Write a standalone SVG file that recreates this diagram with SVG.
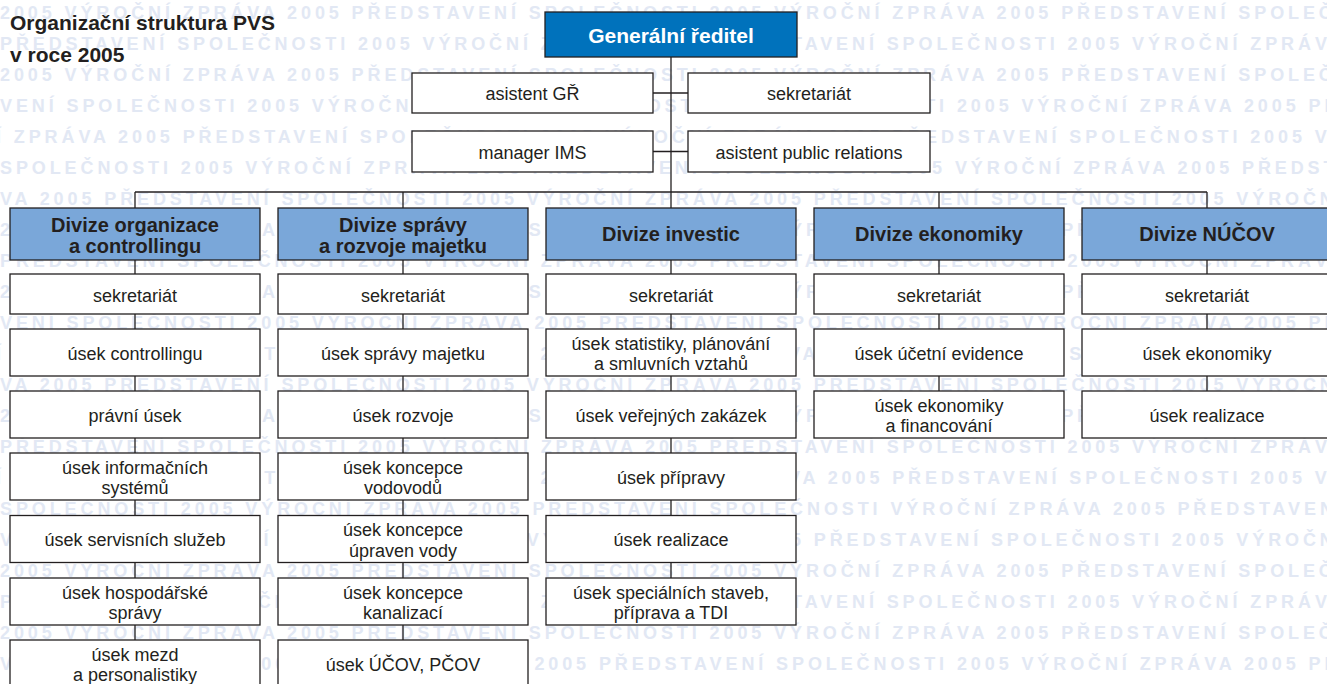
<svg xmlns="http://www.w3.org/2000/svg" width="1327" height="684" viewBox="0 0 1327 684">
<style>
.wm{font-family:"Liberation Sans",Arial,sans-serif;font-weight:bold;font-size:18px;letter-spacing:3.9px;fill:#e2e8f4}
.box{fill:#fff;stroke:#231f20;stroke-width:1.3}
.dv{fill:#7aa7d9;stroke:#231f20;stroke-width:1.3}
.gr{fill:#0072bc;stroke:#231f20;stroke-width:1.3}
.t{font-family:"Liberation Sans",Arial,sans-serif;font-size:18px;fill:#231f20;text-anchor:middle}
.h{font-family:"Liberation Sans",Arial,sans-serif;font-weight:bold;font-size:20px;fill:#231f20;text-anchor:middle}
.grt{font-family:"Liberation Sans",Arial,sans-serif;font-weight:bold;font-size:21px;fill:#fff;text-anchor:middle}
.title{font-family:"Liberation Sans",Arial,sans-serif;font-weight:bold;font-size:21px;fill:#231f20}
.conn line{stroke:#231f20;stroke-width:1.3}
</style>
<rect width="1327" height="684" fill="#fff"/>
<g id="watermark" class="wm">
<text x="0" y="18.5">2005 VÝROČNÍ ZPRÁVA 2005 PŘEDSTAVENÍ SPOLEČNOSTI 2005 VÝROČNÍ ZPRÁVA 2005 PŘEDSTAVENÍ SPOLEČNOSTI 2005</text>
<text x="0" y="49.5">PŘEDSTAVENÍ SPOLEČNOSTI 2005 VÝROČNÍ ZPRÁVA 2005 PŘEDSTAVENÍ SPOLEČNOSTI 2005 VÝROČNÍ ZPRÁVA 2005 PŘEDSTAVENÍ</text>
<text x="0" y="80.5">2005 VÝROČNÍ ZPRÁVA 2005 PŘEDSTAVENÍ SPOLEČNOSTI 2005 VÝROČNÍ ZPRÁVA 2005 PŘEDSTAVENÍ SPOLEČNOSTI 2005</text>
<text x="0" y="111.5">VENÍ SPOLEČNOSTI 2005 VÝROČNÍ ZPRÁVA 2005 PŘEDSTAVENÍ SPOLEČNOSTI 2005 VÝROČNÍ ZPRÁVA 2005 PŘEDSTAVENÍ</text>
<text x="-4" y="142.5">Í ZPRÁVA 2005 PŘEDSTAVENÍ SPOLEČNOSTI 2005 VÝROČNÍ ZPRÁVA 2005 PŘEDSTAVENÍ SPOLEČNOSTI 2005 VÝROČNÍ</text>
<text x="0" y="173.5">SPOLEČNOSTI 2005 VÝROČNÍ ZPRÁVA 2005 PŘEDSTAVENÍ SPOLEČNOSTI 2005 VÝROČNÍ ZPRÁVA 2005 PŘEDSTAVENÍ</text>
<text x="0" y="204.5">VA 2005 PŘEDSTAVENÍ SPOLEČNOSTI 2005 VÝROČNÍ ZPRÁVA 2005 PŘEDSTAVENÍ SPOLEČNOSTI 2005 VÝROČNÍ ZPRÁVA</text>
<text x="0" y="235.5">2005 VÝROČNÍ ZPRÁVA 2005 PŘEDSTAVENÍ SPOLEČNOSTI 2005 VÝROČNÍ ZPRÁVA 2005 PŘEDSTAVENÍ SPOLEČNOSTI 2005</text>
<text x="0" y="266.5">PŘEDSTAVENÍ SPOLEČNOSTI 2005 VÝROČNÍ ZPRÁVA 2005 PŘEDSTAVENÍ SPOLEČNOSTI 2005 VÝROČNÍ ZPRÁVA 2005 PŘEDSTAVENÍ</text>
<text x="0" y="297.5">2005 VÝROČNÍ ZPRÁVA 2005 PŘEDSTAVENÍ SPOLEČNOSTI 2005 VÝROČNÍ ZPRÁVA 2005 PŘEDSTAVENÍ SPOLEČNOSTI 2005</text>
<text x="0" y="328.5">VENÍ SPOLEČNOSTI 2005 VÝROČNÍ ZPRÁVA 2005 PŘEDSTAVENÍ SPOLEČNOSTI 2005 VÝROČNÍ ZPRÁVA 2005 PŘEDSTAVENÍ</text>
<text x="-4" y="359.5">Í ZPRÁVA 2005 PŘEDSTAVENÍ SPOLEČNOSTI 2005 VÝROČNÍ ZPRÁVA 2005 PŘEDSTAVENÍ SPOLEČNOSTI 2005 VÝROČNÍ</text>
<text x="0" y="390.5">VA 2005 PŘEDSTAVENÍ SPOLEČNOSTI 2005 VÝROČNÍ ZPRÁVA 2005 PŘEDSTAVENÍ SPOLEČNOSTI 2005 VÝROČNÍ ZPRÁVA</text>
<text x="0" y="421.5">2005 VÝROČNÍ ZPRÁVA 2005 PŘEDSTAVENÍ SPOLEČNOSTI 2005 VÝROČNÍ ZPRÁVA 2005 PŘEDSTAVENÍ SPOLEČNOSTI 2005</text>
<text x="0" y="452.5">PŘEDSTAVENÍ SPOLEČNOSTI 2005 VÝROČNÍ ZPRÁVA 2005 PŘEDSTAVENÍ SPOLEČNOSTI 2005 VÝROČNÍ ZPRÁVA 2005 PŘEDSTAVENÍ</text>
<text x="-4" y="483.5">Í ZPRÁVA 2005 PŘEDSTAVENÍ SPOLEČNOSTI 2005 VÝROČNÍ ZPRÁVA 2005 PŘEDSTAVENÍ SPOLEČNOSTI 2005 VÝROČNÍ</text>
<text x="0" y="514.5">SPOLEČNOSTI 2005 VÝROČNÍ ZPRÁVA 2005 PŘEDSTAVENÍ SPOLEČNOSTI VÝROČNÍ ZPRÁVA 2005 PŘEDSTAVENÍ SPOLEČNOSTI</text>
<text x="0" y="545.5">VA 2005 PŘEDSTAVENÍ SPOLEČNOSTI 2005 VÝROČNÍ ZPRÁVA 2005 PŘEDSTAVENÍ SPOLEČNOSTI 2005 VÝROČNÍ ZPRÁVA</text>
<text x="0" y="576.5">2005 VÝROČNÍ ZPRÁVA 2005 PŘEDSTAVENÍ SPOLEČNOSTI 2005 VÝROČNÍ ZPRÁVA 2005 PŘEDSTAVENÍ SPOLEČNOSTI 2005</text>
<text x="0" y="607.5">PŘEDSTAVENÍ SPOLEČNOSTI 2005 VÝROČNÍ ZPRÁVA 2005 PŘEDSTAVENÍ SPOLEČNOSTI 2005 VÝROČNÍ ZPRÁVA 2005 PŘEDSTAVENÍ</text>
<text x="0" y="638.5">2005 VÝROČNÍ ZPRÁVA 2005 PŘEDSTAVENÍ SPOLEČNOSTI 2005 VÝROČNÍ ZPRÁVA 2005 PŘEDSTAVENÍ SPOLEČNOSTI 2005</text>
<text x="0" y="669.5">VENÍ SPOLEČNOSTI 2005 VÝROČNÍ ZPRÁVA 2005 PŘEDSTAVENÍ SPOLEČNOSTI 2005 VÝROČNÍ ZPRÁVA 2005 PŘEDSTAVENÍ</text>
</g>
<g id="title" class="title">
<text x="10" y="30">Organizační struktura PVS</text>
<text x="10" y="62">v roce 2005</text>
</g>
<g id="connectors" class="conn">
<line x1="671" y1="57" x2="671" y2="192"/>
<line x1="653" y1="93" x2="688" y2="93"/>
<line x1="653" y1="151.5" x2="688" y2="151.5"/>
<line x1="135" y1="192" x2="1207" y2="192"/>
<line x1="135" y1="192" x2="135" y2="640"/>
<line x1="403" y1="192" x2="403" y2="640"/>
<line x1="671" y1="192" x2="671" y2="578"/>
<line x1="939" y1="192" x2="939" y2="391"/>
<line x1="1207" y1="192" x2="1207" y2="391"/>
</g>
<g id="gr"><rect class="gr" x="545" y="12" width="252" height="45"/><text class="grt" x="671" y="43">Generální ředitel</text></g>
<g id="asistent-gr"><rect class="box" x="412" y="73" width="241" height="40"/><text class="t" x="532.5" y="100">asistent GŘ</text></g>
<g id="sekretariat-gr"><rect class="box" x="688" y="73" width="242" height="40"/><text class="t" x="809" y="100">sekretariát</text></g>
<g id="manager-ims"><rect class="box" x="412" y="131" width="241" height="41"/><text class="t" x="532.5" y="158.5">manager IMS</text></g>
<g id="asistent-pr"><rect class="box" x="688" y="131" width="242" height="41"/><text class="t" x="809" y="158.5">asistent public relations</text></g>

<g id="div1"><rect class="dv" x="10" y="208" width="250" height="52"/><text class="h" x="135" y="232">Divize organizace</text><text class="h" x="135" y="253">a controllingu</text></g>
<g id="div2"><rect class="dv" x="278" y="208" width="250" height="52"/><text class="h" x="403" y="232">Divize správy</text><text class="h" x="403" y="253">a rozvoje majetku</text></g>
<g id="div3"><rect class="dv" x="546" y="208" width="250" height="52"/><text class="h" x="671" y="241">Divize investic</text></g>
<g id="div4"><rect class="dv" x="814" y="208" width="250" height="52"/><text class="h" x="939" y="241">Divize ekonomiky</text></g>
<g id="div5"><rect class="dv" x="1082" y="208" width="250" height="52"/><text class="h" x="1207" y="241">Divize NÚČOV</text></g>

<g id="c1r1"><rect class="box" x="10" y="274" width="250" height="40"/><text class="t" x="135" y="301.5">sekretariát</text></g>
<g id="c1r2"><rect class="box" x="10" y="329" width="250" height="47"/><text class="t" x="135" y="359.5">úsek controllingu</text></g>
<g id="c1r3"><rect class="box" x="10" y="391" width="250" height="47"/><text class="t" x="135" y="421.5">právní úsek</text></g>
<g id="c1r4"><rect class="box" x="10" y="453" width="250" height="47"/><text class="t" x="135" y="473.5">úsek informačních</text><text class="t" x="135" y="494">systémů</text></g>
<g id="c1r5"><rect class="box" x="10" y="515.5" width="250" height="47"/><text class="t" x="135" y="546">úsek servisních služeb</text></g>
<g id="c1r6"><rect class="box" x="10" y="578" width="250" height="47"/><text class="t" x="135" y="598.5">úsek hospodářské</text><text class="t" x="135" y="619">správy</text></g>
<g id="c1r7"><rect class="box" x="10" y="640" width="250" height="47"/><text class="t" x="135" y="660.5">úsek mezd</text><text class="t" x="135" y="681">a personalistiky</text></g>

<g id="c2r1"><rect class="box" x="278" y="274" width="250" height="40"/><text class="t" x="403" y="301.5">sekretariát</text></g>
<g id="c2r2"><rect class="box" x="278" y="329" width="250" height="47"/><text class="t" x="403" y="359.5">úsek správy majetku</text></g>
<g id="c2r3"><rect class="box" x="278" y="391" width="250" height="47"/><text class="t" x="403" y="421.5">úsek rozvoje</text></g>
<g id="c2r4"><rect class="box" x="278" y="453" width="250" height="47"/><text class="t" x="403" y="473.5">úsek koncepce</text><text class="t" x="403" y="494">vodovodů</text></g>
<g id="c2r5"><rect class="box" x="278" y="515.5" width="250" height="47"/><text class="t" x="403" y="536">úsek koncepce</text><text class="t" x="403" y="556.5">úpraven vody</text></g>
<g id="c2r6"><rect class="box" x="278" y="578" width="250" height="47"/><text class="t" x="403" y="598.5">úsek koncepce</text><text class="t" x="403" y="619">kanalizací</text></g>
<g id="c2r7"><rect class="box" x="278" y="640" width="250" height="47"/><text class="t" x="403" y="670.5">úsek ÚČOV, PČOV</text></g>

<g id="c3r1"><rect class="box" x="546" y="274" width="250" height="40"/><text class="t" x="671" y="301.5">sekretariát</text></g>
<g id="c3r2"><rect class="box" x="546" y="329" width="250" height="47"/><text class="t" x="671" y="349.5">úsek statistiky, plánování</text><text class="t" x="671" y="370">a smluvních vztahů</text></g>
<g id="c3r3"><rect class="box" x="546" y="391" width="250" height="47"/><text class="t" x="671" y="421.5">úsek veřejných zakázek</text></g>
<g id="c3r4"><rect class="box" x="546" y="453" width="250" height="47"/><text class="t" x="671" y="483.5">úsek přípravy</text></g>
<g id="c3r5"><rect class="box" x="546" y="515.5" width="250" height="47"/><text class="t" x="671" y="546">úsek realizace</text></g>
<g id="c3r6"><rect class="box" x="546" y="578" width="250" height="47"/><text class="t" x="671" y="598.5">úsek speciálních staveb,</text><text class="t" x="671" y="619">příprava a TDI</text></g>

<g id="c4r1"><rect class="box" x="814" y="274" width="250" height="40"/><text class="t" x="939" y="301.5">sekretariát</text></g>
<g id="c4r2"><rect class="box" x="814" y="329" width="250" height="47"/><text class="t" x="939" y="359.5">úsek účetní evidence</text></g>
<g id="c4r3"><rect class="box" x="814" y="391" width="250" height="47"/><text class="t" x="939" y="411.5">úsek ekonomiky</text><text class="t" x="939" y="432">a financování</text></g>

<g id="c5r1"><rect class="box" x="1082" y="274" width="250" height="40"/><text class="t" x="1207" y="301.5">sekretariát</text></g>
<g id="c5r2"><rect class="box" x="1082" y="329" width="250" height="47"/><text class="t" x="1207" y="359.5">úsek ekonomiky</text></g>
<g id="c5r3"><rect class="box" x="1082" y="391" width="250" height="47"/><text class="t" x="1207" y="421.5">úsek realizace</text></g>
</svg>
